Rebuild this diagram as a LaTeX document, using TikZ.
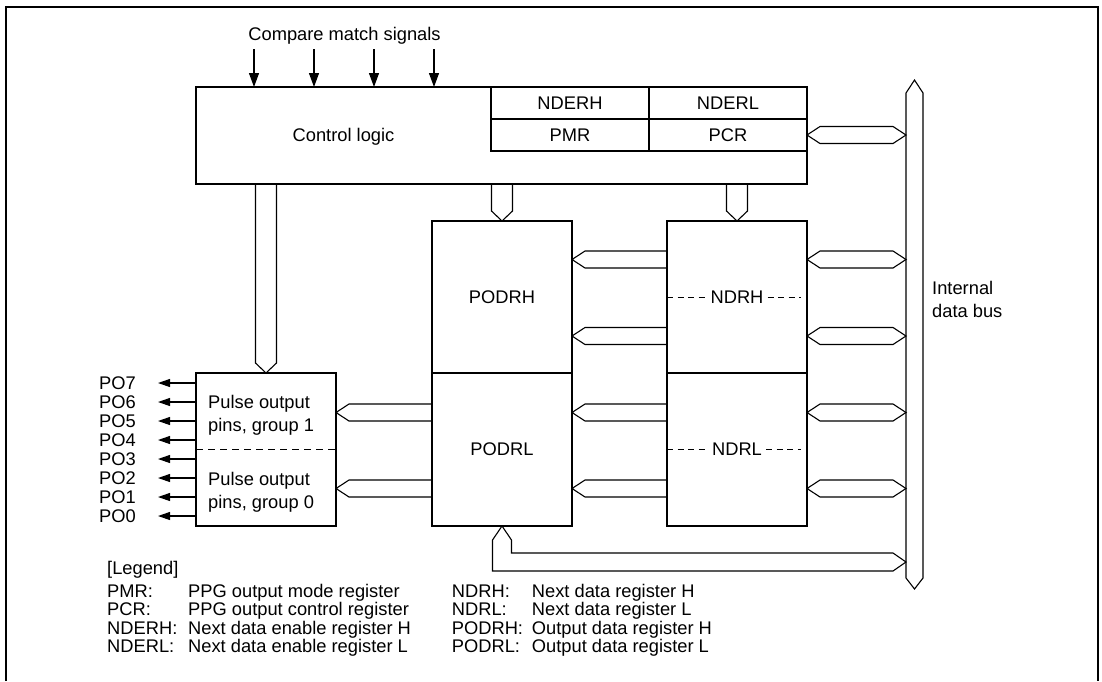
\documentclass[tikz,border=0pt]{standalone}
\usepackage{fontspec}
\setmainfont{Liberation Sans}
\usepackage{tikz}
\usetikzlibrary{arrows.meta, positioning, calc}

\begin{document}
\begin{tikzpicture}[x=1pt, y=-1pt, every node/.style={font=\fontsize{18.3}{23}\selectfont}]
    \tikzstyle{block} = [rectangle, draw, line width=2.3pt, inner sep=0pt, outer sep=0pt, minimum width=140pt]
    \tikzstyle{reg} = [block, minimum width=158pt, minimum height=32pt]
    \tikzstyle{txt} = [inner sep=0pt]
    \tikzstyle{bus} = [draw, line width=1.1pt, line join=miter]
    \tikzstyle{sig} = [draw, line width=1.1pt, -{Triangle[length=14pt, width=10pt]}]
    \tikzstyle{pin} = [draw, line width=1.1pt, -{Triangle[length=12pt, width=8pt]}]
    \tikzstyle{divline} = [draw, line width=1pt, dash pattern=on 6pt off 4.5pt]
    \tikzstyle{fatleft} = [to path={let \p1=(\tikztostart), \p2=(\tikztotarget) in
        (\x1,\y1+8.5pt) -- (\x2+13pt,\y1+8.5pt) -- (\x2,\y1) -- (\x2+13pt,\y1-8.5pt) -- (\x1,\y1-8.5pt)}]
    \tikzstyle{fatboth} = [to path={let \p1=(\tikztostart), \p2=(\tikztotarget) in
        (\x1,\y1) -- (\x1+13pt,\y1+8.5pt) -- (\x2-13pt,\y1+8.5pt) -- (\x2,\y1)
        -- (\x2-13pt,\y1-8.5pt) -- (\x1+13pt,\y1-8.5pt) -- cycle}]
    \tikzstyle{fatdown} = [to path={let \p1=(\tikztostart), \p2=(\tikztotarget) in
        (\x1-10.5pt,\y1) -- (\x1-10.5pt,\y2+10pt) -- (\x2,\y2) -- (\x1+10.5pt,\y2+10pt) -- (\x1+10.5pt,\y1)}]

    \useasboundingbox (0,0) rectangle (1102,681);
    \draw[line width=2pt] (6,681) -- (6,7) -- (1098,7) -- (1098,681);

    % control logic with its registers
    \node [block, minimum width=611pt, minimum height=97pt] (ctrl) at (501.5,135.5) {};
    \node [reg] (nderh) at (570,103) {NDERH};
    \node [reg, right=0pt of nderh] (nderl) {NDERL};
    \node [reg, below=0pt of nderh] (pmr) {PMR};
    \node [reg, below=0pt of nderl] (pcr) {PCR};
    \node [txt, anchor=base, yshift=-6.5pt] (ctrltxt) at ($(ctrl.west)!0.5!(pmr.west)$) {Control logic};

    \node [txt, anchor=base] (cms) at (344.5,40.4) {Compare match signals};
    \foreach \x [count=\i] in {254,314,374,434} {
        \coordinate (cm\i) at (\x,49);
        \draw [sig] (cm\i) -- (cm\i |- ctrl.north);
    }

    % data registers
    \node [block, minimum height=152pt] (podrh) at (502,297) {PODRH};
    \node [block, minimum height=153pt, below=0pt of podrh] (podrl) {PODRL};
    \node [block, minimum height=152pt, right=95pt of podrh] (ndrh) {};
    \node [block, minimum height=153pt, below=0pt of ndrh] (ndrl) {};
    \node [txt, inner xsep=4pt] (ndrhtxt) at (ndrh) {NDRH};
    \node [txt, inner xsep=4pt] (ndrltxt) at (ndrl) {NDRL};
    \draw [divline] (ndrh.west) -- (ndrhtxt.west);
    \draw [divline] (ndrhtxt.east) -- ([xshift=-6pt]ndrh.east);
    \draw [divline] (ndrl.west) -- (ndrltxt.west);
    \draw [divline] (ndrltxt.east) -- ([xshift=-6pt]ndrl.east);

    % pulse output pins
    \node [block, minimum height=153pt, left=96pt of podrl] (pulse) {};
    \draw [divline, dash pattern=on 7pt off 5pt] (pulse.west) -- (pulse.east);
    \node [txt, anchor=west, align=left] (grp1) at ([shift={(12,-34.3)}]pulse.west) {Pulse output\\pins, group 1};
    \node [txt, anchor=west, align=left] (grp0) at ([shift={(12,42.4)}]pulse.west) {Pulse output\\pins, group 0};
    \foreach \n in {0,...,7} {
        \node [txt, anchor=west] (po\n) at (99,{383+19*(7-\n)}) {PO\n};
        \draw [pin] (pulse.west |- po\n) -- ([xshift=22pt]po\n.east);
    }

    % internal data bus
    \draw [bus] (906,93) -- (914.5,80) -- (923,93) -- (923,578) -- (914.5,589) -- (906,578) -- cycle;
    \coordinate (busl) at (906,335);
    \node [txt, anchor=west, align=left] (buslabel) at (932,299) {Internal\\data bus};

    \coordinate (r1) at (0,259.5);
    \coordinate (r2) at (0,336);
    \coordinate (r3) at (0,412.5);
    \coordinate (r4) at (0,488.5);
    \coordinate (r5) at (0,562);

    \draw [bus] (pcr.east) to[fatboth] (busl |- pcr.east);
    \foreach \r in {r1,r2} {
        \draw [bus] (ndrh.east |- \r) to[fatboth] (busl |- \r);
        \draw [bus] (ndrh.west |- \r) to[fatleft] (podrh.east |- \r);
    }
    \foreach \r in {r3,r4} {
        \draw [bus] (ndrl.east |- \r) to[fatboth] (busl |- \r);
        \draw [bus] (ndrl.west |- \r) to[fatleft] (podrl.east |- \r);
        \draw [bus] (podrl.west |- \r) to[fatleft] (pulse.east |- \r);
    }
    \draw [bus] (pulse.north |- ctrl.south) to[fatdown] (pulse.north);
    \draw [bus] (podrh.north |- ctrl.south) to[fatdown] (podrh.north);
    \draw [bus] (ndrh.north |- ctrl.south) to[fatdown] (ndrh.north);
    \draw [bus] (podrl.south) -- ++(-9.5,14) |- ($(busl |- r5)+(-13,9)$) -- (busl |- r5)
        -- ($(busl |- r5)+(-13,-9)$) -| ($(podrl.south)+(9.5,14)$) -- cycle;

    % legend
    \node [txt, anchor=base west] (legend) at (107,574.5) {[Legend]};
    \foreach \k/\d [count=\i] in {PMR:/PPG output mode register, PCR:/PPG output control register,
        NDERH:/Next data enable register H, NDERL:/Next data enable register L} {
        \node [txt, anchor=base west] (lk\i) at (107,{578.5+18.5*\i}) {\k};
        \node [txt, anchor=base west] (ld\i) at (188,{578.5+18.5*\i}) {\d};
    }
    \foreach \k/\d [count=\i] in {NDRH:/Next data register H, NDRL:/Next data register L,
        PODRH:/Output data register H, PODRL:/Output data register L} {
        \node [txt, anchor=base west] (rk\i) at (451.7,{578.5+18.5*\i}) {\k};
        \node [txt, anchor=base west] (rd\i) at (531.7,{578.5+18.5*\i}) {\d};
    }
\end{tikzpicture}
\end{document}
